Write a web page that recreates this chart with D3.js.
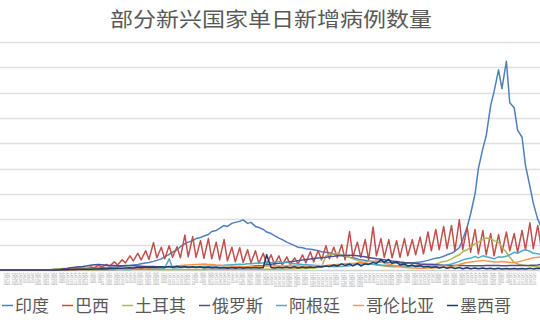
<!DOCTYPE html>
<html>
<head>
<meta charset="utf-8">
<script src="https://cdn.jsdelivr.net/npm/d3@7"></script>
<style>
  body { margin: 0; background: #fff; }
  svg { display: block; }
</style>
</head>
<body>
<svg id="chart" width="540" height="320"></svg>
<script>
// daily new cases, thousands, sampled every 3.5 days from 2020-02-10
const START = new Date(2020, 1, 10);
const dates = d3.range(140).map(i => d3.timeDay.offset(START, Math.round(i * 3.5)));

const india = [
  0,0,0,0,0,0,0,0,0,0,
  0.1,0.1,0.1,0.2,0.4,0.5,0.7,1,1.2,1.5,
  1.8,2,2.5,3,3.5,4,4.5,5,5.5,6,
  6.5,7.5,8,9,10,11,12.5,14,15,17,
  19,22,26,31,35,40,46,52,55,58,
  62,64,67,70,76,78,82,88,86,92,
  94,96,99,92,94,86,84,80,75,72,
  68,63,60,55,52,48,45,44,42,41,
  40,38,36,35,34,31,30,28,27,25,
  24,22,20,19,18,17,17,16,16,15,
  15,14,14,13,14,14,15,16,17,19,
  21,23,24,27,30,33,37,44,60,85,
  110,150,200,240,265,325,352,395,358,412,
  330,320,276,262,207,165,132,100,85,80
];
const brazil = [
  0,0,0,0,0,0,0,0,0,0,
  0.05,0.1,0.2,0.3,0.4,1.1,1,1.9,1.2,2.5,
  1.8,3.5,2.5,6,4.5,9,6,11,8,16,
  10,20,14,28,18,33,20,38,21,54,
  24,45,22,48,25,46,24,69,26,66,
  25,58,23,62,22,55,20,60,18,45,
  16,44,15,40,14,38,13,33,12,30,
  11,28,10,26,11,24,12,30,14,36,
  16,38,20,48,22,45,24,50,20,76,
  26,55,25,60,20,85,28,62,25,60,
  24,58,25,62,28,60,30,65,32,75,
  38,80,40,86,42,88,38,99,40,85,
  35,80,32,78,30,72,28,70,34,75,
  38,72,35,78,40,93,42,88,45,90
];
const turkey = [
  0,0,0,0,0,0,0,0,0,0,
  0.02,0.1,0.5,1,1.8,2.5,3,3.5,4.2,4.5,
  4.5,4.3,3.8,2.8,2.3,2,1.8,1.5,1.2,1,
  1,1,0.9,1,1.3,1.5,1.4,1.3,1.2,1.1,
  1.1,1.1,1,1,0.9,0.95,0.95,0.95,1,1,
  1.1,1.2,1.2,1.3,1.4,1.5,1.5,1.6,1.7,1.7,
  1.7,1.7,1.7,1.7,1.6,1.6,1.5,1.5,1.5,1.6,
  1.7,1.8,2,2.2,2.4,2.6,2.8,3,3.2,3.5,
  3.9,4.8,6,28,30,32,33,30,28,25,
  22,19,16,14,12,11,10,9,8,7,
  6.5,6.5,7,7.5,8,8.5,9,10,11,11.5,
  11.5,12,14,17,18,22,26,30,36,40,
  45,52,55,60,63,62,58,55,45,35,
  25,15,12,10,9,8,7,6,6,6
];
const russia = [
  0,0,0,0,0,0,0,0,0,0,
  0,0.05,0.2,0.5,0.8,1.2,2,3,4.5,5.5,
  6.2,7,8,9.5,10.5,11,10.5,9.5,9,8.9,
  8.6,8.6,8.8,8.9,8.5,8,7.6,7.1,6.8,6.7,
  6.6,6.6,6.6,6.4,6.3,6,5.8,5.6,5.5,5.4,
  5.3,5.2,5.1,5,4.9,4.8,4.8,4.9,5,5.2,
  5.5,5.9,6.1,6.4,7,7.8,8.5,9,10.5,11.5,
  12.5,13.5,14.5,15.5,16.5,17.5,18.5,19.5,20.5,21.5,
  22.5,23.5,24,25,26,27,28,28.5,28.5,29,
  29,28,27,26,24.5,23,22,21,20,19,
  18,17,16,15,14.5,14,13,12,11.5,11,
  11,10.5,10,9.5,9.3,9.1,9,8.8,8.7,8.5,
  8.4,8.4,8.5,8.6,8.8,9,9,8.8,8.5,8.5,
  8.7,8.8,9,9,9,9.2,9.5,10,11,12
];
const argentina = [
  0,0,0,0,0,0,0,0,0,0,
  0,0,0,0,0,0,0,0,0.1,0.1,
  0.15,0.15,0.2,0.2,0.25,0.3,0.4,0.5,0.6,0.7,
  0.8,0.9,1,1.1,1.3,1.6,1.9,2.2,2.6,2.9,
  3.3,2.8,3.6,22,4,4.5,4.9,5.3,5.8,6.2,
  6.5,7,7.4,7.6,8,8.4,8.9,9.3,10,10.5,
  11,11.5,11,12.5,12.5,13.5,14,14,15,14.5,
  16,17,14,16,13,12.5,12,11,10.5,10,
  9.5,8.5,8,7.5,7.5,6.5,7.5,7,8,8.5,
  9.5,11,12,13,12.5,11.5,11,10,9.5,9,
  8.5,8.5,8,8,7.5,7.5,7.5,7,7.5,7.5,
  8,8,8.5,9,10,12,14,17,20,22,
  23,27,24,28,26,24,22,26,25,27,
  30,35,33,38,40,37,33,32,30,31
];
const colombia = [
  0,0,0,0,0,0,0,0,0,0,
  0,0,0,0.02,0.05,0.1,0.1,0.15,0.2,0.25,
  0.3,0.35,0.4,0.45,0.5,0.6,0.8,0.9,1,1.2,
  1.4,1.6,1.8,2,2.3,2.8,3.3,3.8,4,4.5,
  4.2,5,5.5,6.5,7.5,8,9,9.5,10,10.5,
  11,11.5,12,11,11,10,9.5,9,8.5,8,
  7.5,7,6.5,7,7,6.5,7,7.5,8,8,
  8.5,8,8,8.5,9,8.5,8,8,7.5,8,
  8.5,9,8.5,9,10,10,11,12,12.5,13,
  13,14,15,16,17,17,18,16,14,12,
  10,8,6.5,5,4.5,4,4,3.5,3.5,4,
  4,4.5,5,5.5,6,7,8.5,11,13,15,
  16,17,18,19,18,17,16,16,17,16,
  15,15,16,18,20,22,24,25,26,28
];
const mexico = [
  0,0,0,0,0,0,0,0,0,0,
  0,0,0,0.05,0.1,0.2,0.3,0.5,0.8,1,
  1.3,1.5,1.7,1.5,2,1.8,2.5,2.2,3,2.8,
  3.5,3.3,3.8,4.5,4,5.5,4.5,6,5,6,
  5.2,6.5,5.5,7,5.5,7.5,5.5,7,5,6.5,
  5,6.5,4.5,6,4.5,5.5,4,5,3.5,5,
  3.5,4.8,3.5,5,3.8,5,4,5,30,5,
  4,5.5,4.5,6,4.5,6.5,4,6,4.5,6,
  5,7,6,8,7,10,8,12,9,12,
  8,13,8,12,11,15,13,20,15,21,
  13,16,10,12,8,10,7,9,6,7,
  5,6.5,4,6,3.5,5.5,3,5,2.5,4.5,
  2.5,4,2.5,4,2.5,3.5,2,3.5,2,3,
  2,3,2,3,2,3.5,2.2,3.5,2.5,4
];

const seriesNames = ['印度', '巴西', '土耳其', '俄罗斯', '阿根廷', '哥伦比亚', '墨西哥'];
const seriesValues = [india, brazil, turkey, russia, argentina, colombia, mexico];
const seriesColors = ['#4f7fbd', '#c0504d', '#b0b556', '#4e4f8c', '#4bacc6', '#f79646', '#1f3b6b'];
const yTicks = d3.range(0, 451, 50);

const TITLE = '部分新兴国家单日新增病例数量';
const FONT = '"Noto Sans CJK SC", "Noto Sans", sans-serif';

const svg = d3.select('#chart');
svg.append('rect').attr('width', 540).attr('height', 320).attr('fill', '#fff');

// plot area runs past the right edge, as in the cropped original
const x = d3.scaleTime()
  .domain([START, d3.timeDay.offset(START, 482)])
  .range([0, 540]);
const y = d3.scaleLinear()
  .domain([0, 450])
  .range([270, 42]);

// grid
svg.append('g').attr('class', 'grid')
  .selectAll('line')
  .data(yTicks)
  .join('line')
  .attr('x1', 0)
  .attr('x2', 540)
  .attr('y1', d => Math.round(y(d)) + 0.5)
  .attr('y2', d => Math.round(y(d)) + 0.5)
  .attr('stroke', d => d === 0 ? '#d0d0d0' : '#e0e0e0')
  .attr('stroke-width', 1.5);

// x axis: tiny vertical date labels below the baseline (skip the ones the edges would cut)
const xAxis = d3.axisBottom(x)
  .tickValues(dates.filter(d => x(d) > 3 && x(d) < 536))
  .tickSize(0)
  .tickFormat(d3.timeFormat('%-m月%-d日'));
const xg = svg.append('g')
  .attr('transform', 'translate(0,270)')
  .call(xAxis);
xg.select('.domain').remove();
xg.selectAll('text')
  .attr('transform', 'translate(0,2.5) rotate(90)')
  .attr('text-anchor', 'start')
  .attr('x', 0)
  .attr('y', 0)
  .attr('dy', '0.35em')
  .attr('fill', '#9a9a9a')
  .attr('font-size', '3.6px')
  .attr('font-family', FONT);

// lines
const line = d3.line()
  .x((d, i) => x(dates[i]))
  .y(d => y(d));

svg.append('g').attr('class', 'series')
  .selectAll('path')
  .data(seriesValues)
  .join('path')
  .attr('d', d => line(d))
  .attr('fill', 'none')
  .attr('stroke', (d, i) => seriesColors[i])
  .attr('stroke-width', 1.5)
  .attr('stroke-linejoin', 'round');

// title
svg.append('text')
  .attr('x', 271)
  .attr('y', 27)
  .attr('text-anchor', 'middle')
  .attr('font-family', FONT)
  .attr('font-size', 20)
  .attr('fill', '#595959')
  .attr('textLength', 322)
  .attr('lengthAdjust', 'spacingAndGlyphs')
  .text(TITLE);

// legend
const legend = svg.append('g').attr('class', 'legend');
let cursor = 2;
seriesNames.forEach((name, i) => {
  legend.append('line')
    .attr('x1', cursor)
    .attr('x2', cursor + 11)
    .attr('y1', 305.5)
    .attr('y2', 305.5)
    .attr('stroke', seriesColors[i])
    .attr('stroke-width', 1.5);
  const t = legend.append('text')
    .attr('x', cursor + 13)
    .attr('y', 312)
    .attr('font-family', FONT)
    .attr('font-size', 17)
    .attr('fill', '#595959')
    .text(name);
  cursor += 13 + t.node().getComputedTextLength() + 13;
});
</script>
</body>
</html>
